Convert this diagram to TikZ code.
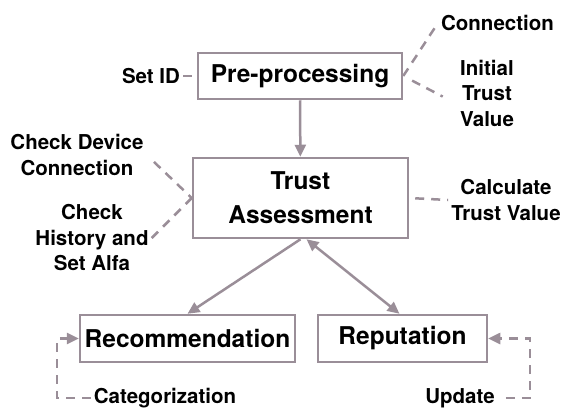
\documentclass[tikz,border=0pt]{standalone}
\usepackage{fontspec}
\setmainfont{TeX Gyre Heros}
\usetikzlibrary{arrows.meta, positioning, calc}
\definecolor{grismalva}{HTML}{9A8E98}
\colorlet{colLinea}{grismalva}
\colorlet{colTexto}{black}
\tikzset{
  cajaBase/.style={
    draw=colLinea, line width=2.5pt, fill=white,
    minimum height=46pt, inner sep=0pt,
    align=center, text=colTexto,
    font=\fontsize{24.5}{34}\selectfont\bfseries
  },
  etiqueta/.style={align=center, text=colTexto, inner sep=3pt,
    font=\fontsize{20.5}{25.5}\selectfont\bfseries},
  flecha/.style={-{Triangle[length=12pt, width=11pt]}, line width=2.5pt, colLinea},
  flechaDoble/.style={{Triangle[length=12pt, width=11pt]}-{Triangle[length=12pt, width=11pt]},
    line width=2.5pt, colLinea},
  lineaPunteada/.style={line width=2.5pt, colLinea, dash pattern=on 9pt off 7pt},
  flechaPunteada/.style={lineaPunteada, -{Triangle[length=12pt, width=11pt]}},
}

\begin{document}
\begin{tikzpicture}[x=1pt, y=1pt]
    \useasboundingbox (0,0) rectangle (563,-410);

    % Cajas principales
    \node[cajaBase, minimum width=204pt] (pre) at (300,-76) {Pre-processing};
    \node[cajaBase, minimum width=215pt, minimum height=80pt] (eval) at (300.5,-198) {Trust\\Assessment};
    \node[cajaBase, minimum width=215pt, minimum height=47pt] (recom) at (187.5,-338.5) {Recommendation};
    \node[cajaBase, minimum width=169pt, minimum height=47pt] (repu) at (402.5,-338.5) {Reputation};

    % Etiquetas
    \node[etiqueta] (setid) at (151,-76) {Set ID};
    \node[etiqueta] (conex) at (497.5,-23) {Connection};
    \node[etiqueta] (inicial) at (487,-93) {Initial\\Trust\\Value};
    \node[etiqueta] (chkDisp) at (77,-155) {Check Device\\Connection};
    \node[etiqueta] (chkHist) at (92,-238) {Check\\History and\\Set Alfa};
    \node[etiqueta] (calcular) at (506,-200) {Calculate\\Trust Value};
    \node[etiqueta] (categ) at (165,-398) {Categorization};
    \node[etiqueta] (actual) at (460,-398) {Update};

    \coordinate (esqIzq) at (57,-338.5);
    \coordinate (esqDer) at (530,-338.5);

    % Flechas entre cajas
    \draw[flecha] (pre) -- (eval);
    \draw[flecha] (eval.south) -- (recom.north);
    \draw[flechaDoble] ([xshift=6pt]eval.south) -- ([xshift=-3pt]repu.north);

    % Lineas punteadas
    \draw[lineaPunteada] (setid) -- (pre);
    \draw[lineaPunteada] (pre.east) -- (conex.west);
    \draw[lineaPunteada, shorten <=10pt, shorten >=16pt] (pre.east) -- (inicial.200);
    \draw[lineaPunteada, shorten <=10pt] (chkDisp.east) -- (eval.west);
    \draw[lineaPunteada] (chkHist.east) -- (eval.west);
    \draw[lineaPunteada, shorten <=6pt] (eval.east) -- (calcular.west);
    \draw[flechaPunteada] (categ.west) -| (esqIzq) -- (recom.west);
    \draw[flechaPunteada, shorten <=8pt] (actual.east) -| (esqDer) -- (repu.east);
\end{tikzpicture}
\end{document}
